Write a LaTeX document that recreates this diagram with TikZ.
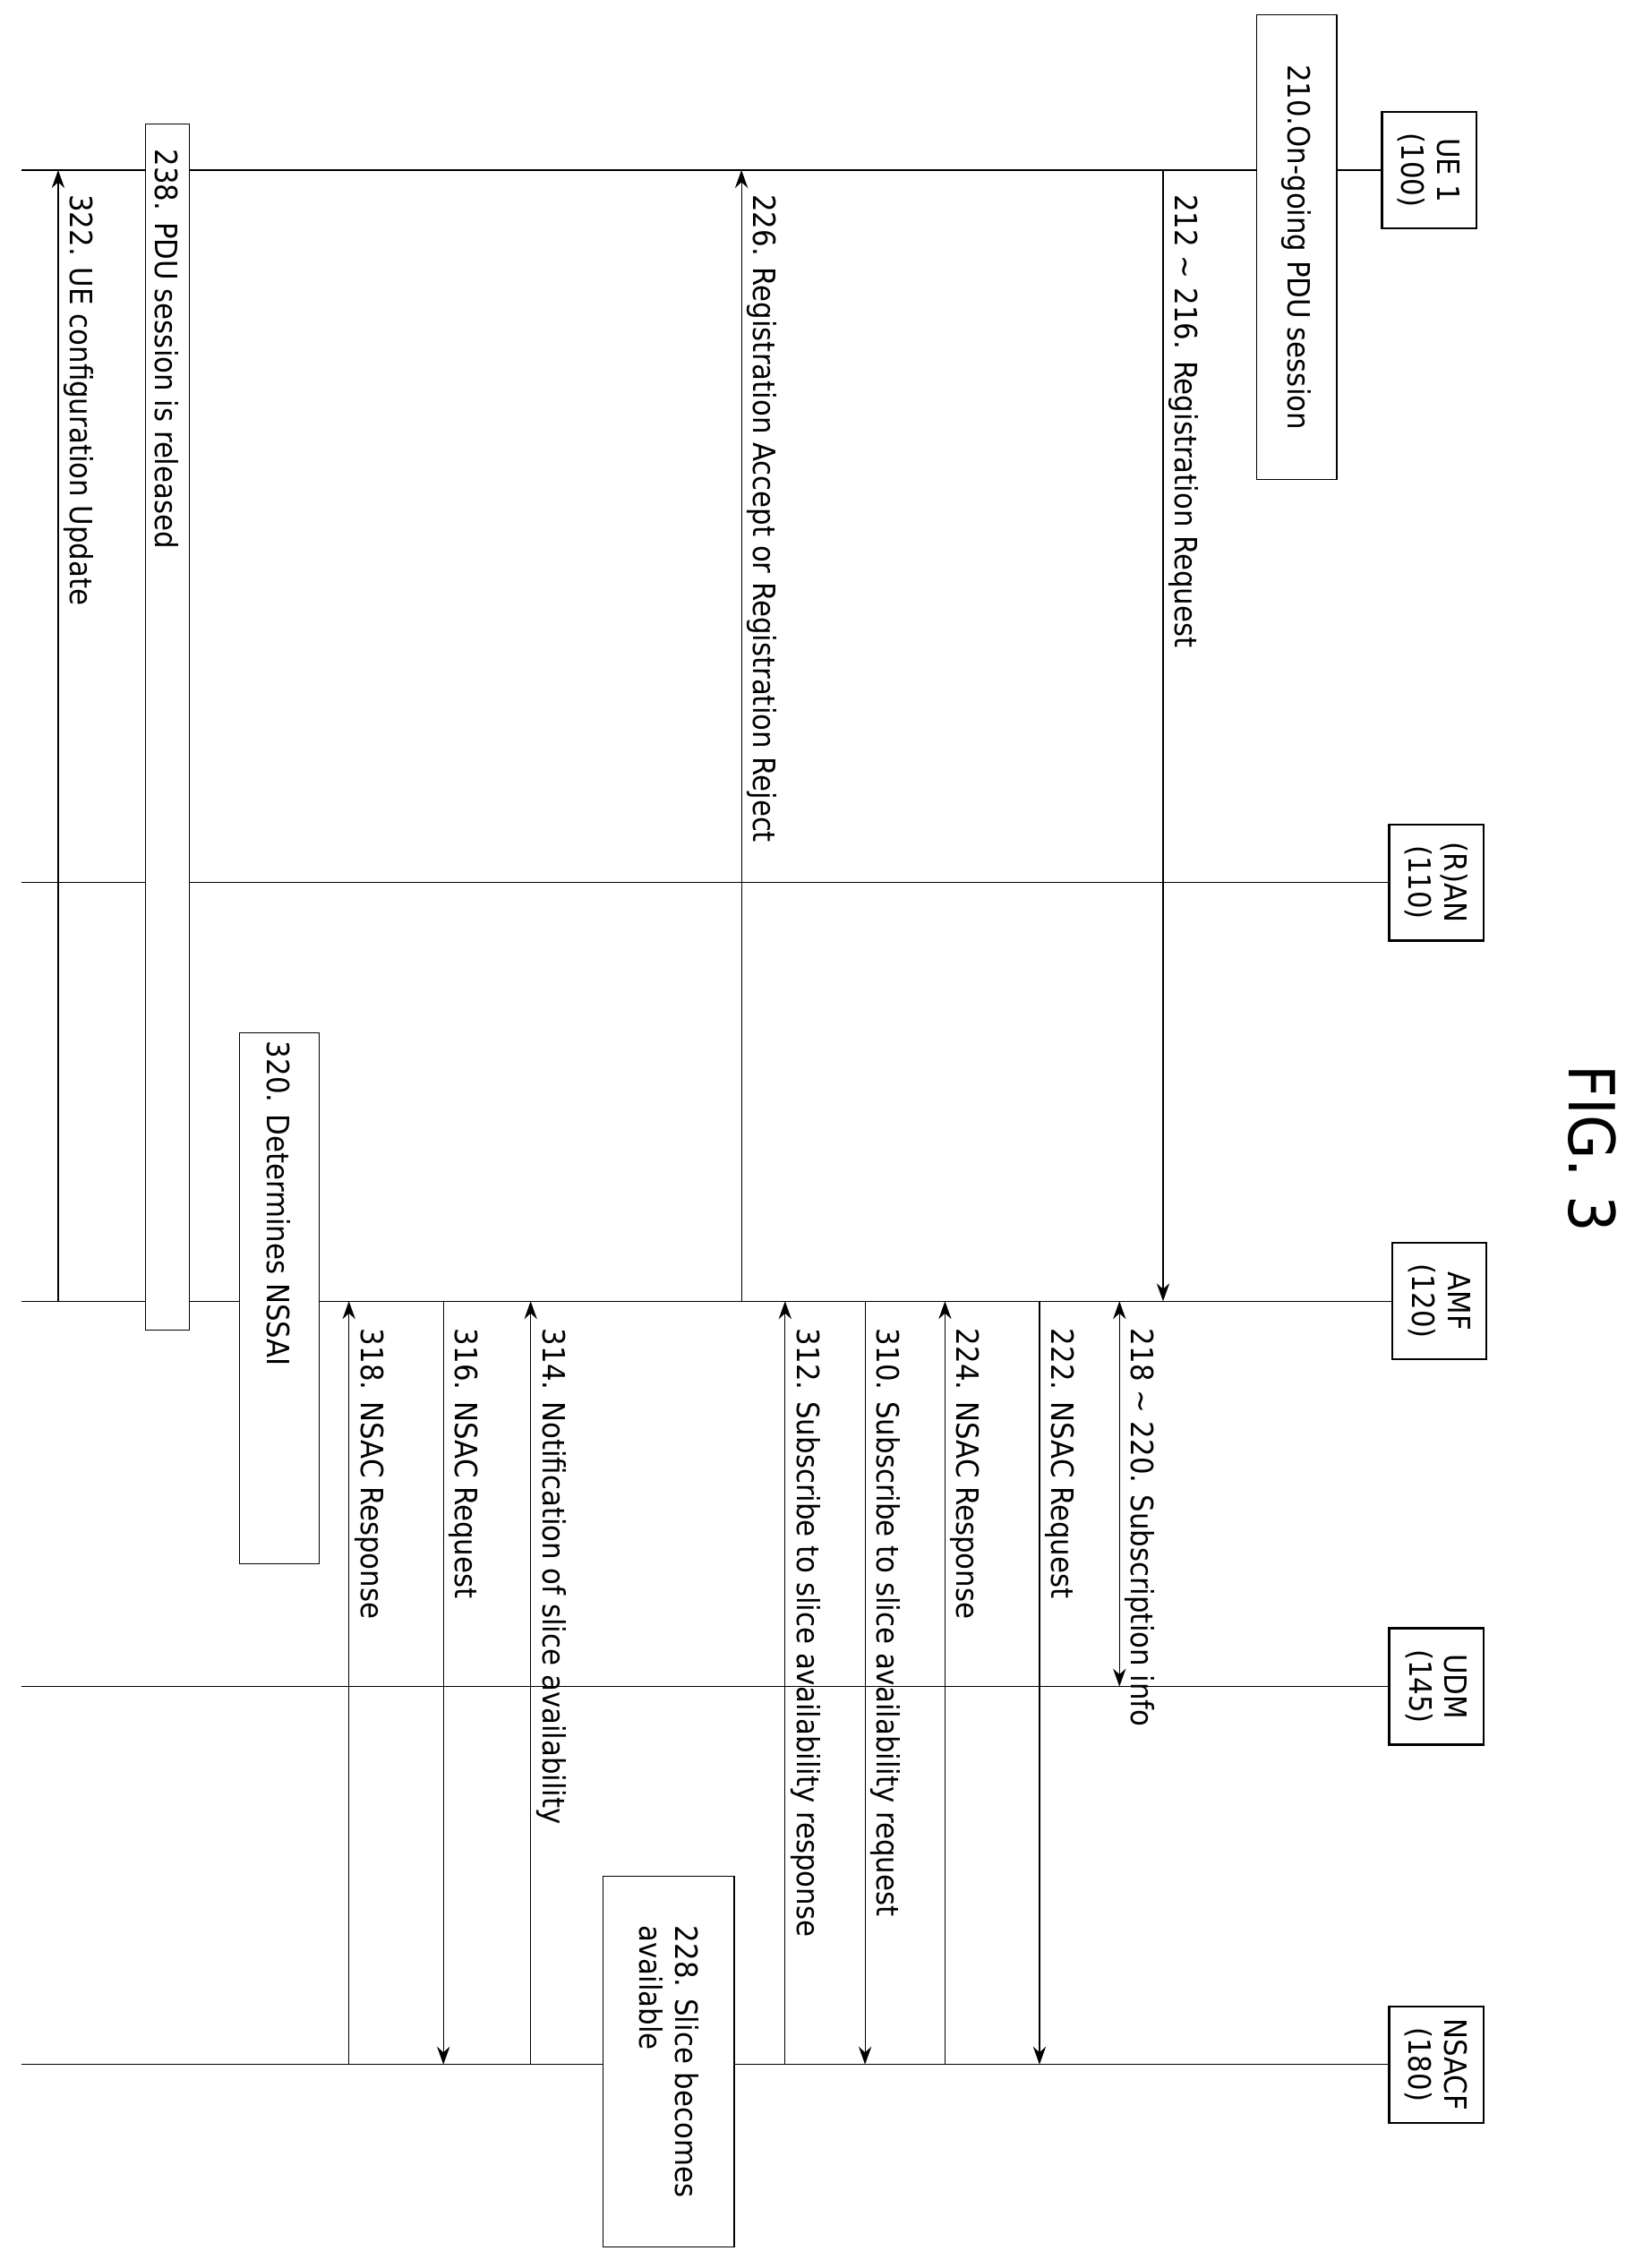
\documentclass[tikz,border=0pt]{standalone}
\usepackage{fontspec}
\setmainfont{DejaVu Sans Condensed}
\usetikzlibrary{positioning,arrows.meta}
\tikzset{
  ent/.style={draw,thick,rotate=-90,align=center,minimum width=1.6cm,minimum height=1.3cm,font=\large},
  msg/.style={rotate=-90,anchor=south west,font=\large,inner sep=2pt},
  act/.style={draw,rotate=-90,align=left,font=\large},
  arr/.style={-{Stealth[length=7pt,width=5pt]},thin}
}
\begin{document}
\begin{tikzpicture}[x=0.02cm,y=-0.02cm]
\useasboundingbox (0,0) rectangle (1130,1560);
% entities
\node[ent] (ue) at (983,117) {UE 1\\(100)};
\node[ent] (ran) at (988,607) {(R)AN\\(110)};
\node[ent] (amf) at (990,895) {AMF\\(120)};
\node[ent] (udm) at (988,1160) {UDM\\(145)};
\node[ent] (nsacf) at (988,1420) {NSACF\\(180)};
\node[rotate=-90,font=\Huge\rmfamily] (fig) at (1095,790) {FIG. 3};
% lifelines
\foreach \e in {ue,ran,amf,udm,nsacf}
  \draw (\e.south) -- (15,0 |- \e.south);
\coordinate (ueL) at (0,117);
\coordinate (amfL) at (0,895);
\coordinate (udmL) at (0,1160);
\coordinate (nsL) at (0,1420);
% boxes
\node[act,fill=white,minimum width=6.4cm,minimum height=1.1cm] (onpdu) at (892,170) {210.On-going PDU session};
% messages
\draw[arr] (800,0 |- ueL) -- (800,0 |- amfL);
\node[msg] (m212) at (800,130) {212 \textasciitilde{} 216. Registration Request};
\draw[{Stealth[length=7pt,width=5pt]}-{Stealth[length=7pt,width=5pt]}] (770,0 |- amfL) -- (770,0 |- udmL);
\node[msg] (m218) at (770,910) {218 \textasciitilde{} 220. Subscription info};
\draw[arr] (715,0 |- amfL) -- (715,0 |- nsL);
\node[msg] (m222) at (715,910) {222. NSAC Request};
\draw[arr] (650,0 |- nsL) -- (650,0 |- amfL);
\node[msg] (m224) at (650,910) {224. NSAC Response};
\draw[arr] (595,0 |- amfL) -- (595,0 |- nsL);
\node[msg] (m310) at (595,910) {310. Subscribe to slice availability request};
\draw[arr] (540,0 |- nsL) -- (540,0 |- amfL);
\node[msg] (m312) at (540,910) {312. Subscribe to slice availability response};
\draw[arr] (510,0 |- amfL) -- (510,0 |- ueL);
\node[msg] (m226) at (510,130) {226. Registration Accept or Registration Reject};
\node[act,fill=white,minimum width=5.1cm,minimum height=1.8cm] (slice) at (460,1418) {228. Slice becomes\\available};
\draw[arr] (365,0 |- nsL) -- (365,0 |- amfL);
\node[msg] (m314) at (365,910) {314. Notification of slice availability};
\draw[arr] (305,0 |- amfL) -- (305,0 |- nsL);
\node[msg] (m316) at (305,910) {316. NSAC Request};
\draw[arr] (240,0 |- nsL) -- (240,0 |- amfL);
\node[msg] (m318) at (240,910) {318. NSAC Response};
\node[act,fill=white,minimum width=6.7cm,minimum height=1.1cm] (nssai) at (192,893) {320. Determines NSSAI\hspace{2.6cm}};
\node[act,fill=white,minimum width=16.6cm,minimum height=0.6cm,font=\large,inner sep=1pt] (pdurel) at (115,500) {238. PDU session is released\hspace{10.4cm}};
\draw[arr] (40,0 |- amfL) -- (40,0 |- ueL);
\node[msg] (m322) at (40,130) {322. UE configuration Update};
\end{tikzpicture}
\end{document}
